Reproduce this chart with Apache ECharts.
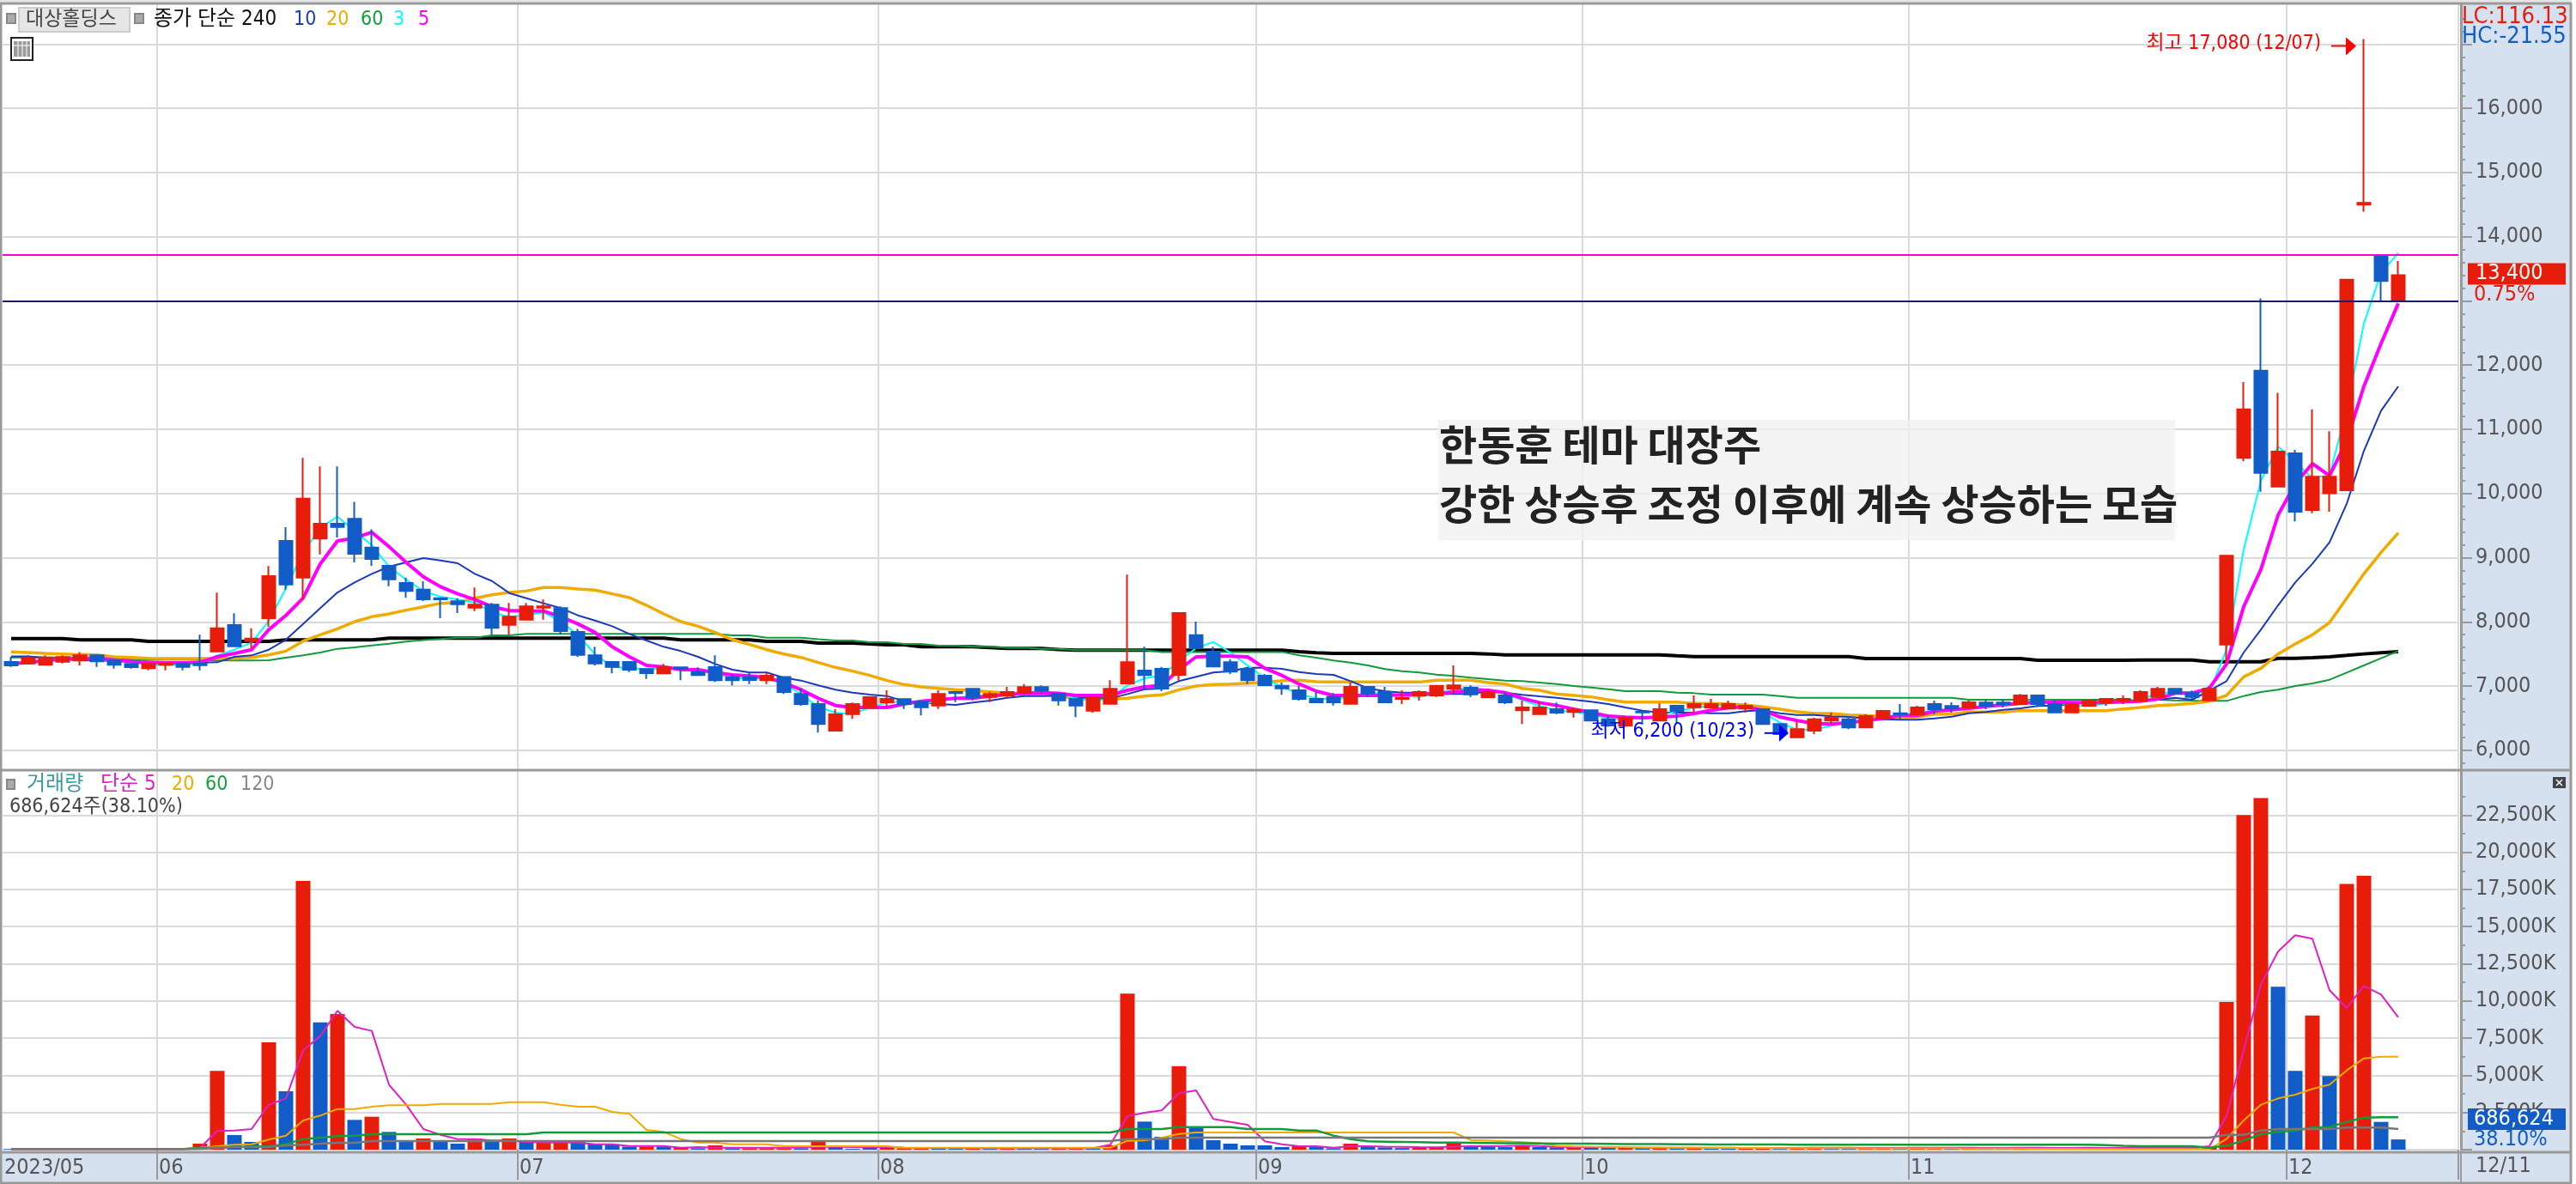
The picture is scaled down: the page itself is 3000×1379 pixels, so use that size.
<!DOCTYPE html>
<html>
<head>
<meta charset="utf-8">
<script src="https://cdn.jsdelivr.net/npm/echarts@6/dist/echarts.min.js"></script>
<style>
html, body { margin: 0; padding: 0; background: #fff; }
#chart { width: 3000px; height: 1379px; }
</style>
</head>
<body>
<div id="chart"></div>
<script>
const categories = [
  '05/18','05/19','05/22','05/23','05/24','05/25','05/26','05/30','05/31',
  '06/01','06/02','06/05','06/07','06/08','06/09','06/12','06/13','06/14','06/15','06/16','06/19','06/20','06/21','06/22','06/23','06/26','06/27','06/28','06/29','06/30',
  '07/03','07/04','07/05','07/06','07/07','07/10','07/11','07/12','07/13','07/14','07/17','07/18','07/19','07/20','07/21','07/24','07/25','07/26','07/27','07/28','07/31',
  '08/01','08/02','08/03','08/04','08/07','08/08','08/09','08/10','08/11','08/14','08/16','08/17','08/18','08/21','08/22','08/23','08/24','08/25','08/28','08/29','08/30','08/31',
  '09/01','09/04','09/05','09/06','09/07','09/08','09/11','09/12','09/13','09/14','09/15','09/18','09/19','09/20','09/21','09/22','09/25','09/26','09/27',
  '10/04','10/05','10/06','10/10','10/11','10/12','10/13','10/16','10/17','10/18','10/19','10/20','10/23','10/24','10/25','10/26','10/27','10/30','10/31',
  '11/01','11/02','11/03','11/06','11/07','11/08','11/09','11/10','11/13','11/14','11/15','11/16','11/17','11/20','11/21','11/22','11/23','11/24','11/27','11/28','11/29','11/30',
  '12/01','12/04','12/05','12/06','12/07','12/08','12/11','12/12','12/13','12/14'
]

const opens = [
  7375,7352,7330,7379,7397,7477,7397,7343,7276,7335,
  7343,7352,7540,7950,7700,8057,9261,8690,9296,9528,
  9604,9158,8873,8605,8503,8369,8320,8222,8266,7954,
  8035,8222,8213,7843,7477,7375,7375,7263,7196,7290,
  7218,7294,7138,7138,7089,7142,6875,6719,6304,6563,
  6670,6746,6795,6755,6697,6906,6955,6830,6853,6897,
  6982,6880,6799,6617,6724,7040,7241,7267,7174,7794,
  7535,7370,7267,7160,7004,6933,6800,6830,6724,6987,
  6906,6800,6853,6853,6960,6973,6826,6853,6621,6563,
  6639,6594,6621,6483,6380,6603,6460,6692,6670,6666,
  6648,6648,6639,6407,6200,6304,6461,6483,6353,6496,
  6576,6559,6719,6688,6666,6741,6741,6719,6853,6719,
  6590,6692,6746,6773,6773,6830,6955,6889,6777,7647,
  10554,11914,10108,10625,9742,10005,10050,14500,13706,13006
]
const closes = [
  7321,7433,7446,7450,7477,7383,7330,7294,7343,7352,
  7299,7325,7901,7620,7740,8712,8583,9920,9528,9479,
  9060,8980,8663,8480,8351,8351,8275,8266,7905,8079,
  8240,8240,7856,7486,7352,7299,7254,7201,7290,7267,
  7169,7089,7089,7094,7160,6906,6719,6407,6559,6719,
  6826,6799,6719,6670,6875,6888,6822,6875,6906,6982,
  6929,6777,6697,6822,6955,7370,7169,6960,8137,7589,
  7303,7223,7089,7013,6964,6800,6746,6746,6987,6884,
  6746,6817,6906,7004,7009,6871,6906,6746,6666,6666,
  6585,6630,6460,6385,6510,6590,6639,6612,6719,6719,
  6719,6692,6407,6251,6327,6483,6510,6353,6532,6612,
  6559,6666,6639,6648,6746,6692,6719,6853,6719,6590,
  6719,6773,6800,6800,6906,6955,6884,6830,6955,9029,
  11312,10322,10652,9716,10260,10260,13332,14530,13310,13400
]
const lows = [
  7299,7334,7330,7352,7321,7299,7272,7272,7245,7245,
  7245,7245,7540,7620,7589,7923,8503,8347,9051,9314,
  8926,8873,8556,8373,8324,8057,8137,8168,7789,7798,
  8035,8035,7807,7455,7321,7196,7218,7111,7196,7089,
  7169,7062,7009,7031,7031,6875,6692,6273,6304,6487,
  6670,6675,6643,6541,6643,6750,6777,6750,6800,6862,
  6889,6697,6514,6585,6724,7040,6964,6920,7085,7589,
  7303,7187,7031,7013,6862,6773,6746,6697,6724,6830,
  6746,6719,6773,6830,6875,6830,6826,6719,6407,6563,
  6563,6510,6460,6363,6363,6403,6460,6425,6585,6666,
  6648,6585,6407,6251,6200,6251,6407,6327,6353,6474,
  6483,6559,6559,6585,6666,6639,6666,6719,6675,6590,
  6590,6692,6692,6719,6773,6830,6884,6786,6777,7365,
  10500,10028,10108,9564,9693,9716,10050,14390,13006,13006
]
const highs = [
  7455,7477,7477,7477,7530,7477,7397,7343,7343,7352,
  7343,7798,8454,8133,7901,8868,9475,10554,10420,10420,
  9871,9443,8873,8690,8632,8369,8369,8534,8293,8293,
  8293,8347,8240,7891,7611,7375,7375,7263,7343,7290,
  7290,7477,7187,7210,7196,7142,6964,6773,6639,6741,
  6826,6933,6795,6755,6933,6906,6955,6911,6987,7031,
  7009,6880,6799,6822,7089,8735,7611,7298,8137,8003,
  7611,7419,7298,7187,7054,7000,6906,6889,7053,6987,
  6987,6933,6933,7004,7321,7009,6951,6906,6773,6750,
  6741,6666,6621,6540,6510,6603,6728,6692,6853,6799,
  6773,6741,6639,6407,6461,6505,6585,6532,6559,6612,
  6719,6692,6773,6746,6773,6790,6800,6875,6853,6773,
  6719,6800,6800,6853,6933,6987,6955,6929,7000,9029,
  11736,13040,11570,10680,11312,10969,13332,17080,13706,13622
]
const ma3 = [
  7340,7360,7380,7410,7430,7430,7400,7370,7330,7320,
  7330,7350,7477,7566,7678,8012,8525,9082,9461,9640,
  9417,9194,8860,8659,8480,8391,8347,8302,8146,8079,
  8101,8146,8012,7789,7499,7299,7276,7263,7263,7276,
  7250,7190,7130,7110,7120,7040,6870,6675,6585,6563,
  6666,6740,6764,6720,6764,6808,6853,6853,6853,6897,
  6920,6875,6808,6764,6808,7009,7120,7165,7388,7589,
  7687,7520,7320,7120,6987,6875,6808,6790,6830,6880,
  6900,6850,6830,6880,6940,6980,6940,6880,6780,6690,
  6620,6600,6560,6490,6480,6500,6530,6610,6660,6700,
  6700,6690,6590,6430,6320,6320,6380,6440,6460,6510,
  6540,6590,6620,6630,6660,6690,6720,6760,6780,6760,
  6690,6690,6730,6770,6800,6880,6910,6900,6900,7566,
  9127,10197,10732,10487,10240,10286,11312,12649,13440,13746
]
const ma5 = [
  7352,7366,7397,7420,7430,7428,7406,7380,7366,7361,
  7361,7370,7455,7508,7566,7878,8100,8369,8904,9261,
  9305,9395,9172,8926,8703,8547,8436,8347,8235,8177,
  8168,8168,8079,7968,7834,7611,7455,7321,7299,7254,
  7254,7210,7174,7156,7129,7053,6942,6808,6697,6666,
  6666,6666,6719,6764,6786,6808,6808,6844,6866,6888,
  6897,6888,6853,6853,6853,6933,6987,7009,7254,7455,
  7464,7464,7455,7276,7165,7031,6920,6853,6853,6853,
  6853,6862,6875,6884,6906,6933,6933,6897,6808,6741,
  6697,6639,6585,6532,6514,6505,6514,6532,6572,6621,
  6661,6675,6621,6518,6461,6416,6407,6429,6461,6496,
  6541,6541,6608,6630,6652,6683,6706,6728,6750,6750,
  6741,6741,6741,6755,6764,6799,6889,6889,6964,7343,
  8235,8815,9662,10152,10465,10277,10822,11669,12338,12962
]
const ma10 = [
  7463,7463,7440,7415,7400,7397,7390,7380,7380,7375,
  7370,7365,7370,7455,7477,7566,7722,7968,8213,8458,
  8614,8748,8860,8926,8993,8957,8913,8748,8636,8449,
  8369,8289,8213,8101,8021,7932,7811,7709,7611,7544,
  7455,7343,7254,7210,7210,7129,7085,7009,6942,6897,
  6866,6844,6764,6741,6719,6706,6741,6773,6817,6844,
  6844,6853,6830,6808,6808,6875,6951,6960,7076,7143,
  7210,7232,7285,7285,7268,7218,7187,7174,7076,6964,
  6920,6897,6897,6875,6875,6875,6920,6897,6862,6839,
  6817,6786,6755,6719,6666,6617,6585,6585,6585,6576,
  6576,6608,6621,6576,6550,6550,6527,6518,6496,6483,
  6474,6474,6496,6523,6576,6594,6630,6652,6688,6697,
  6719,6741,6741,6741,6764,6786,6817,6786,6929,7076,
  7522,7878,8257,8614,8904,9238,9840,10665,11290,11669
]
const ma20 = [
  7531,7522,7508,7499,7490,7486,7455,7446,7433,7428,
  7428,7428,7433,7433,7446,7486,7544,7700,7798,7892,
  8003,8079,8124,8182,8235,8289,8302,8369,8422,8458,
  8480,8534,8534,8512,8494,8436,8378,8257,8124,8003,
  7932,7834,7722,7647,7566,7499,7446,7366,7290,7232,
  7165,7085,7022,6987,6964,6942,6929,6911,6889,6875,
  6862,6844,6808,6795,6795,6808,6844,6862,6942,7000,
  7022,7031,7045,7054,7085,7089,7067,7062,7062,7062,
  7062,7062,7062,7089,7089,7089,7054,7031,6964,6933,
  6875,6853,6831,6786,6750,6750,6750,6750,6728,6728,
  6719,6706,6675,6639,6599,6572,6572,6550,6541,6523,
  6510,6519,6563,6563,6594,6594,6594,6617,6617,6617,
  6617,6617,6617,6643,6666,6697,6710,6728,6764,6853,
  7143,7276,7499,7655,7798,7990,8369,8748,9082,9386
]
const ma60 = [
  7446,7446,7446,7446,7446,7446,7446,7410,7410,7410,
  7410,7410,7397,7397,7397,7400,7441,7477,7522,7580,
  7602,7633,7660,7691,7716,7731,7754,7754,7789,7789,
  7812,7812,7812,7812,7812,7812,7812,7812,7812,7812,
  7812,7812,7789,7789,7754,7754,7754,7730,7709,7709,
  7682,7682,7655,7655,7629,7629,7611,7611,7597,7597,
  7580,7580,7557,7557,7557,7557,7557,7530,7530,7530,
  7530,7530,7530,7530,7530,7477,7441,7397,7366,7321,
  7263,7232,7210,7178,7156,7129,7107,7085,7076,7054,
  7031,7000,6978,6951,6920,6920,6920,6897,6888,6866,
  6866,6866,6866,6844,6817,6817,6817,6817,6817,6817,
  6817,6817,6817,6817,6786,6786,6786,6786,6786,6786,
  6786,6786,6786,6786,6786,6786,6775,6772,6770,6768,
  6844,6906,6942,7000,7040,7098,7210,7321,7433,7544
]
const ma240 = [
  7740,7740,7740,7740,7718,7718,7718,7718,7696,7696,
  7696,7696,7696,7696,7696,7696,7718,7718,7718,7718,
  7718,7718,7745,7745,7745,7745,7745,7745,7745,7745,
  7745,7745,7745,7745,7745,7745,7745,7745,7745,7718,
  7718,7718,7718,7718,7696,7696,7696,7669,7669,7669,
  7655,7642,7642,7611,7611,7611,7611,7600,7584,7584,
  7584,7570,7557,7557,7557,7557,7557,7557,7557,7557,
  7557,7557,7557,7557,7557,7535,7520,7508,7508,7508,
  7508,7508,7508,7508,7508,7508,7500,7486,7486,7486,
  7486,7486,7486,7486,7486,7486,7486,7470,7459,7459,
  7459,7459,7459,7459,7459,7459,7459,7459,7428,7428,
  7428,7428,7428,7428,7428,7428,7428,7428,7401,7401,
  7401,7401,7401,7401,7406,7406,7406,7406,7379,7379,
  7379,7379,7432,7432,7440,7455,7477,7500,7520,7535
]
const volumes = [
  40,30,35,30,35,30,30,30,35,30,
  35,404,5294,982,520,7219,3927,18076,8566,9124,
  2002,2214,1193,616,750,558,404,750,558,750,
  558,480,520,520,404,365,210,210,210,173,
  96,289,96,96,96,96,96,520,192,58,
  192,173,96,96,96,96,96,96,96,96,
  96,96,96,96,289,10491,1886,866,5621,1482,
  635,404,289,289,173,270,173,96,404,212,
  150,110,130,170,420,240,180,170,260,180,
  150,170,140,110,130,120,150,120,140,120,
  100,120,150,100,130,160,120,100,130,140,
  120,130,140,110,120,100,90,170,120,100,
  110,130,110,100,130,135,120,100,135,9933,
  22503,23639,10953,5294,9028,4947,17864,18422,1867,686.624
]
const volumeUp = [
  0,0,1,0,1,0,0,0,1,0,
  1,1,1,0,0,1,0,1,0,1,
  0,1,0,0,1,0,0,1,0,1,
  0,1,1,0,0,0,0,1,0,1,
  0,1,0,1,1,1,0,1,0,0,
  0,1,1,1,0,0,1,0,1,0,
  0,1,1,0,1,1,0,0,1,0,
  0,0,0,0,0,1,0,0,1,0,
  0,0,1,1,1,0,0,0,1,0,
  0,1,0,0,1,0,1,0,1,0,
  0,1,1,0,1,1,0,0,1,1,
  0,1,1,0,1,0,0,1,0,0,
  1,1,0,0,1,1,0,0,1,1,
  1,1,0,0,1,0,1,1,0,0
]
const volMa5 = [
  40,40,40,40,40,40,40,40,40,40,
  40,135,1251,1290,1386,3022,3446,6680,7642,9336,
  8258,7989,4370,3022,1386,1001,712,712,616,616,
  520,481,481,481,366,366,250,250,250,135,
  173,135,135,135,135,135,150,190,190,170,
  170,190,135,120,110,110,100,100,100,100,
  100,100,100,100,327,2252,2483,2637,3792,3985,
  2060,1867,1675,558,366,231,231,135,231,231,
  200,190,170,160,200,230,230,240,280,250,
  180,190,170,170,140,130,130,130,130,130,
  130,120,120,120,120,130,130,130,120,120,
  120,130,130,130,125,120,120,130,130,120,
  120,130,120,120,115,120,120,120,231,2252,
  6680,11107,13321,14418,14187,10722,9529,11011,10433,8893
]
const volMa20 = [
  40,40,40,40,40,40,40,40,40,40,
  40,135,231,327,366,674,943,1964,2291,2734,
  2734,2888,2984,2984,2984,3080,3080,3080,3080,3196,
  3196,3196,3022,2888,2888,2541,2406,1328,1194,712,
  481,481,366,366,366,231,231,231,231,231,
  231,231,135,135,135,135,135,135,135,135,
  135,135,135,135,135,597,620,808,1059,1155,
  1155,1155,1155,1155,1155,1155,1155,1155,1155,1155,
  1155,1155,1155,1155,1155,640,600,560,500,430,
  250,220,200,190,170,150,140,135,130,120,
  120,110,110,100,100,100,100,100,90,90,
  90,80,80,80,70,70,70,70,60,60,
  60,50,50,50,50,40,40,40,40,712,
  1964,3022,3446,3696,4081,4370,5332,6141,6256,6256
]
const volMa60 = [
  40,40,40,40,40,40,40,40,40,40,
  40,100,150,180,200,231,366,712,808,905,
  943,1040,1040,1040,1040,1040,1040,1040,1040,1040,
  1040,1155,1155,1155,1155,1155,1155,1155,1155,1155,
  1155,1155,1155,1155,1155,1155,1155,1155,1155,1155,
  1155,1155,1155,1155,1155,1155,1155,1155,1155,1155,
  1155,1155,1155,1155,1155,1386,1386,1386,1521,1521,
  1521,1521,1386,1386,1386,1290,1290,943,712,558,
  540,520,500,480,470,460,450,440,430,420,
  410,400,400,390,380,370,370,360,360,350,
  350,340,340,340,330,330,330,330,330,330,
  327,327,327,327,327,327,327,327,327,327,
  327,327,300,260,231,231,231,231,135,270,
  616,1040,1194,1290,1482,1521,1867,2156,2175,2175
]
const volMa120 = [
  40,40,40,40,40,40,40,40,40,40,
  40,60,135,173,173,173,289,327,404,462,
  462,577,577,577,577,577,577,577,577,577,
  577,577,577,577,577,577,577,577,577,577,
  577,577,577,577,577,577,577,577,577,577,
  577,577,577,577,577,577,577,577,577,577,
  577,577,577,577,577,712,712,712,808,808,
  808,808,808,808,808,808,808,808,808,808,
  808,808,808,808,808,808,808,808,808,808,
  808,808,808,808,808,808,808,808,808,808,
  808,808,808,808,808,808,808,808,808,808,
  808,808,808,808,808,808,808,808,808,808,
  808,808,808,808,808,808,808,808,808,1001,
  1001,1290,1386,1386,1386,1386,1482,1482,1482,1386
]

const priceTicks = [6000,7000,8000,9000,10000,11000,12000,13000,14000,15000,16000,17000]
const priceLabels = [6000,7000,8000,9000,10000,11000,12000,14000,15000,16000]
const priceMinorTicks = [
  5800,6200,6400,6600,6800,7200,7400,7600,7800,8200,8400,8600,8800,9200,9400,9600,9800,
  10200,10400,10600,10800,11200,11400,11600,11800,12200,12400,12600,12800,13200,13400,13600,13800,
  14200,14400,14600,14800,15200,15400,15600,15800,16200,16400,16600,16800,17200,17400
]
const volumeTicks = [0,2500,5000,7500,10000,12500,15000,17500,20000,22500]
const volumeLabels = [2500,5000,7500,10000,12500,15000,17500,20000,22500]
const volumeMinorTicks = [1250,3750,6250,8750,11250,13750,16250,18750,21250,23750]
const resistanceLine = 13720
const supportLine = 13000

const RED = '#e81c0a'
const BLUE = '#125cc8'
const NARROW = '"Liberation Sans Narrow","DejaVu Sans Condensed","Noto Sans CJK KR",sans-serif'
const GRID_LINE = '#dadada'
const AXIS_LINE = '#999999'
const PANEL = '#d6e1ef'

const isMonthStart = (i) => i === 0 || categories[i].slice(0, 2) !== categories[i - 1].slice(0, 2)
const monthBoundary = (i) => i > 0 && isMonthStart(i)

const chart = echarts.init(document.getElementById('chart'))

function priceLine(name, data, color, width) {
  return {
    name, type: 'line', data, xAxisIndex: 0, yAxisIndex: 0, z: 2,
    showSymbol: false, silent: true,
    lineStyle: { color, width }
  }
}

function volumeLine(name, data, color, width) {
  return {
    name, type: 'line', data, xAxisIndex: 1, yAxisIndex: 1, z: 4,
    showSymbol: false, silent: true,
    lineStyle: { color, width }
  }
}

function rightAxis(gridIndex, max, ticks, labels, fmt) {
  return {
    type: 'value', gridIndex, position: 'right', offset: 3, min: gridIndex ? 0 : 5689, max, scale: true,
    axisLine: { show: true, lineStyle: { color: AXIS_LINE, width: 3 } },
    axisTick: { show: true, length: 13, customValues: ticks, lineStyle: { color: AXIS_LINE, width: 2 } },
    axisLabel: {
      show: true, customValues: labels, margin: 17, formatter: fmt,
      color: '#555', fontFamily: NARROW, fontSize: 25
    },
    splitLine: { show: true, lineStyle: { color: GRID_LINE, width: 2 } }
  }
}

function minorAxis(gridIndex, max, ticks) {
  return {
    type: 'value', gridIndex, position: 'right', offset: 3, min: gridIndex ? 0 : 5689, max, scale: true,
    axisLine: { show: false },
    axisTick: { show: true, length: 5, customValues: ticks, lineStyle: { color: AXIS_LINE, width: 2 } },
    axisLabel: { show: false },
    splitLine: { show: false }
  }
}

const fmtPrice = (v) => v.toLocaleString('en-US')
const fmtVolume = (v) => v.toLocaleString('en-US') + 'K'

chart.setOption({
  animation: false,
  backgroundColor: '#ffffff',
  grid: [
    { left: 3, top: 5, width: 2860, height: 892 },
    { left: 3, top: 898, width: 2860, height: 441 }
  ],
  xAxis: [
    {
      type: 'category', gridIndex: 0, data: categories, boundaryGap: true,
      axisLine: { show: false }, axisTick: { show: false }, axisLabel: { show: false },
      splitLine: { show: true, interval: monthBoundary, lineStyle: { color: GRID_LINE, width: 2 } }
    },
    {
      type: 'category', gridIndex: 1, data: categories, boundaryGap: true, offset: 3,
      axisLine: { show: false },
      axisTick: { show: true, length: 35, interval: monthBoundary, lineStyle: { color: AXIS_LINE, width: 2 } },
      axisLabel: {
        show: true, margin: 6, interval: (i) => isMonthStart(i),
        formatter: (v) => {
          const i = categories.indexOf(v)
          return '{a|' + (i === 0 ? '2023/05' : v.slice(0, 2)) + '}'
        },
        rich: { a: { width: 16, align: 'left', color: '#555', fontFamily: NARROW, fontSize: 25 } }
      },
      splitLine: { show: true, interval: monthBoundary, lineStyle: { color: GRID_LINE, width: 2 } }
    }
  ],
  yAxis: [
    rightAxis(0, 17622, priceTicks, priceLabels, fmtPrice),
    rightAxis(1, 25462, volumeTicks, volumeLabels, fmtVolume),
    minorAxis(0, 17622, priceMinorTicks),
    minorAxis(1, 25462, volumeMinorTicks)
  ],
  series: [
    priceLine('MA240', ma240, '#000000', 4),
    priceLine('MA60', ma60, '#129a3c', 2),
    priceLine('MA20', ma20, '#f0aa00', 3.5),
    priceLine('MA10', ma10, '#1c39bb', 2),
    priceLine('MA3', ma3, '#00ffff', 2),
    priceLine('MA5', ma5, '#ff00ff', 4),
    {
      name: '대상홀딩스', type: 'candlestick', xAxisIndex: 0, yAxisIndex: 0, z: 3,
      data: opens.map((o, i) => [o, closes[i], lows[i], highs[i]]),
      barWidth: 16, silent: true,
      itemStyle: { color: RED, color0: BLUE, borderColor: RED, borderColor0: BLUE, borderWidth: 2 },
      markLine: {
        silent: true, symbol: 'none', z: 10, label: { show: false },
        data: [
          { yAxis: resistanceLine, lineStyle: { color: '#ff00cc', width: 2, type: 'solid' } },
          { yAxis: supportLine, lineStyle: { color: '#1a1a70', width: 2, type: 'solid' } }
        ]
      }
    },
    {
      name: '거래량', type: 'bar', xAxisIndex: 1, yAxisIndex: 1, z: 3, barWidth: 17, silent: true,
      data: volumes.map((v, i) => ({ value: v, itemStyle: { color: volumeUp[i] ? RED : BLUE } }))
    },
    volumeLine('V5', volMa5, '#e020c0', 2),
    volumeLine('V20', volMa20, '#f0aa00', 2),
    volumeLine('V60', volMa60, '#129a3c', 2.5),
    volumeLine('V120', volMa120, '#777777', 2.5)
  ]
})

// pane furniture and text overlays, placed once the scales are known
function txt(x, y, text, color, size, align, extra) {
  return {
    type: 'text', z: 30, silent: true,
    style: Object.assign({
      x, y, text, fill: color, fontSize: size, fontFamily: NARROW,
      textAlign: align || 'left', textVerticalAlign: 'middle'
    }, extra || {})
  }
}
function box(x, y, w, h, fill, z, stroke) {
  return {
    type: 'rect', z, silent: true,
    shape: { x, y, width: w, height: h },
    style: { fill, stroke: stroke || null, lineWidth: stroke ? 2 : 0 }
  }
}
function seg(x1, y1, x2, y2, color, width, z) {
  return {
    type: 'line', z: z === undefined ? 30 : z, silent: true,
    shape: { x1, y1, x2, y2 },
    style: { stroke: color, lineWidth: width }
  }
}
function tri(points, color) {
  return { type: 'polygon', z: 30, silent: true, shape: { points }, style: { fill: color } }
}

const hi = chart.convertToPixel({ xAxisIndex: 0, yAxisIndex: 0 }, [137, 17080])
const lo = chart.convertToPixel({ xAxisIndex: 0, yAxisIndex: 0 }, [104, 6200])
const lastY = chart.convertToPixel({ yAxisIndex: 0 }, 13400)

const elements = [
  // panels behind the axes
  box(2866, 5, 127, 1372, PANEL, -10),
  box(0, 1342, 2993, 35, PANEL, -10),
  seg(0, 1, 2995, 1, '#e4e4e4', 3, 20),
  seg(0, 4, 2995, 4, AXIS_LINE, 3, 20),
  seg(1, 4, 1, 1378, AXIS_LINE, 3, 20),
  seg(2994, 4, 2994, 1378, AXIS_LINE, 3, 20),
  seg(0, 1378, 2995, 1378, AXIS_LINE, 3, 20),
  seg(0, 897, 2995, 897, AXIS_LINE, 3, 20),
  seg(0, 1342, 2995, 1342, AXIS_LINE, 3, 20),

  // price legend
  box(8, 16, 10, 11, '#aaaaaa', 30, '#888888'),
  box(22, 9, 129, 28, '#e6e6e6', 29, '#cccccc'),
  txt(30, 23, '대상홀딩스', '#444', 23),
  box(157, 16, 10, 11, '#aaaaaa', 30, '#888888'),
  txt(179, 23, '종가 단순 240', '#111', 24),
  txt(342, 23, '10', '#1c39bb', 23),
  txt(380, 23, '20', '#f0aa00', 23),
  txt(420, 23, '60', '#12a03c', 23),
  txt(458, 23, '3', '#00ffff', 23),
  txt(487, 23, '5', '#ff00ff', 23),

  // table icon
  box(13, 44, 25, 26, '#ffffff', 30, '#222222'),
  box(16, 48, 19, 18, '#9a9a9a', 30),
  seg(21, 48, 21, 66, '#ffffff', 1),
  seg(26, 48, 26, 66, '#ffffff', 1),
  seg(31, 48, 31, 66, '#ffffff', 1),
  seg(16, 53, 35, 53, '#ffffff', 1),

  // annotation
  box(1675, 489, 858, 140, 'rgba(240,240,240,0.72)', 1),
  txt(1676, 518, '한동훈 테마 대장주', '#222', 48, 'left', { fontFamily: '"Noto Sans CJK KR"', fontWeight: 'bold' }),
  txt(1676, 587, '강한 상승후 조정 이후에 계속 상승하는 모습', '#222', 48, 'left', { fontFamily: '"Noto Sans CJK KR"', fontWeight: 'bold' }),

  // high and low callouts
  txt(hi[0] - 50, hi[1] + 6, '최고 17,080 (12/07)', '#ff0000', 23, 'right'),
  seg(hi[0] - 38, hi[1] + 8, hi[0] - 20, hi[1] + 8, '#ff0000', 2),
  tri([[hi[0] - 21, hi[1] - 2], [hi[0] - 9, hi[1] + 8], [hi[0] - 21, hi[1] + 19]], '#ff0000'),
  txt(lo[0] - 50, lo[1] - 7, '최저 6,200 (10/23)', '#0000ff', 23, 'right'),
  seg(lo[0] - 38, lo[1] - 5, lo[0] - 20, lo[1] - 5, '#0000ff', 2),
  tri([[lo[0] - 21, lo[1] - 15], [lo[0] - 10, lo[1] - 5], [lo[0] - 21, lo[1] + 5]], '#0000ff'),

  // right panel readouts
  txt(2867, 20, 'LC:116.13', RED, 27),
  txt(2867, 43, 'HC:-21.55', BLUE, 27),
  box(2874, lastY - 14, 114, 25, RED, 28),
  txt(2883, lastY - 2, '13,400', '#ffffff', 25),
  txt(2881, 343, '0.75%', RED, 25),
  box(2874, 1291, 114, 25, BLUE, 28),
  txt(2881, 1303, '686,624', '#ffffff', 25),
  txt(2881, 1327, '38.10%', BLUE, 25),

  // volume legend
  box(8, 908, 9, 11, '#aaaaaa', 30, '#888888'),
  txt(31, 914, '거래량', '#3a9d9d', 24),
  txt(117, 914, '단순 5', '#e020c0', 24),
  txt(200, 914, '20', '#f0aa00', 23),
  txt(239, 914, '60', '#12a03c', 23),
  txt(280, 914, '120', '#888888', 23),
  txt(11, 940, '686,624주(38.10%)', '#444', 23),

  // pane maximise button
  box(2973, 905, 15, 13, '#444444', 30),
  seg(2977, 908, 2984, 915, '#ffffff', 1.5),
  seg(2984, 908, 2977, 915, '#ffffff', 1.5),

  // date readout
  txt(2883, 1358, '12/11', '#555', 25),
  seg(2866, 1343, 2866, 1377, AXIS_LINE, 2)
]

chart.setOption({ graphic: { elements } })
</script>
</body>
</html>
